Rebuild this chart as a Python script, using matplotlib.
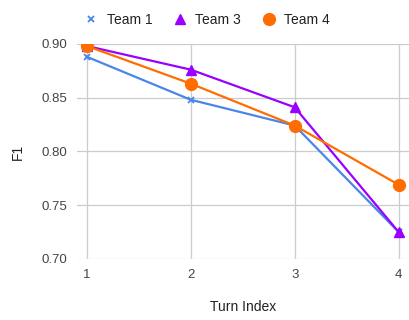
import matplotlib.pyplot as plt
from matplotlib.lines import Line2D

plt.rcParams['font.family'] = ['Liberation Sans', 'DejaVu Sans']

# F1 score per turn for each team
turns = [1, 2, 3, 4]
team1 = [0.888, 0.848, 0.824, 0.725]
team3 = [0.898, 0.876, 0.841, 0.725]
team4 = [0.898, 0.863, 0.824, 0.769]
yticks = [0.70, 0.75, 0.80, 0.85, 0.90]

fig = plt.figure(figsize=(4.09, 3.2), dpi=100)
ax = fig.add_axes([0.188, 0.191, 0.812, 0.672])

styles = [
    ('Team 1', team1, '#4a86e8', 'x', 5, 1.3),
    ('Team 3', team3, '#9900ff', '^', 6.5, 1.0),
    ('Team 4', team4, '#ff6d01', 'o', 8.5, 1.0),
]
handles = []
for name, vals, c, m, ms, mew in styles:
    ax.plot(turns, vals, color=c, lw=1.6, marker=m, ms=ms, mew=mew, zorder=3)
    handles.append(Line2D([], [], color=c, ls='none', marker=m, ms=ms, mew=mew, label=name))

ax.set_xlim(0.905, 4.1)
ax.set_ylim(0.70, 0.90)
ax.set_xticks(turns)
ax.set_yticks(yticks)
ax.set_yticklabels([f'{v:.2f}' for v in yticks])
ax.grid(True, color='#cccccc', lw=0.9)
ax.set_axisbelow(True)
for s in ax.spines.values():
    s.set_visible(False)
ax.tick_params(length=0, labelsize=9.5, colors='#444444', pad=7)

# axis titles placed in figure coordinates
fig.text(0.044, 0.525, 'F1', rotation=90, ha='center', va='center',
         fontsize=10, color='#222222')
fig.text(0.594, 0.04, 'Turn Index', ha='center', va='center',
         fontsize=10, color='#222222')

fig.legend(handles=handles, loc='upper center', bbox_to_anchor=(0.508, 1.0), ncol=3,
           frameon=False, fontsize=10, handlelength=0.8, handletextpad=0.7,
           columnspacing=1.6, labelcolor='#222222')

fig.savefig('out.png', dpi=100)
